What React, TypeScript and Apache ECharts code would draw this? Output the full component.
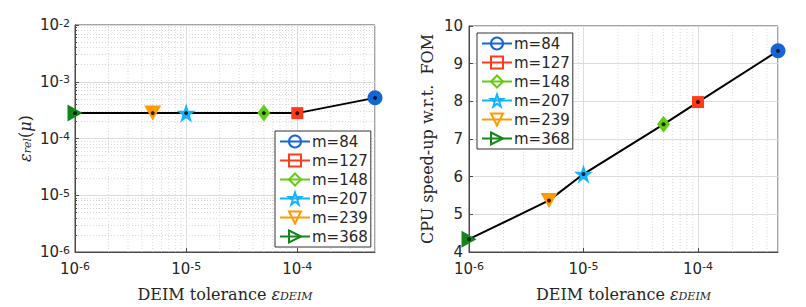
import React, { useEffect, useRef } from 'react';
import * as echarts from 'echarts';

// ---- data ----
const tolerance = [5e-4, 1e-4, 5e-5, 1e-5, 5e-6, 1e-6];
const labels = ['m=84', 'm=127', 'm=148', 'm=207', 'm=239', 'm=368'];
const relError = [5.2e-4, 2.8e-4, 2.8e-4, 2.8e-4, 2.8e-4, 2.8e-4];
const speedup = [9.34, 7.98, 7.39, 6.07, 5.37, 4.34];

// axis ranges and minor grid positions (axis decoration)
const xRange = [1e-6, 5e-4];
const yRangeLeft = [1e-6, 1e-2];
const yRangeRight = [4, 10];
const xMinorTicks = [
  2e-6, 3e-6, 4e-6, 5e-6, 6e-6, 7e-6, 8e-6, 9e-6,
  2e-5, 3e-5, 4e-5, 5e-5, 6e-5, 7e-5, 8e-5, 9e-5,
  2e-4, 3e-4, 4e-4,
];

// ---- styles ----
const colors = ['#1466d6', '#ff3b1c', '#62cc14', '#15b3fb', '#ff9a00', '#12861a'];
const STAR = 'path://M50,0L61.8,34.5L97.6,34.5L68.6,55.9L79.4,90.5L50,69.1L20.6,90.5L31.4,55.9L2.4,34.5L38.2,34.5Z';
const DOWN = 'path://M0,0L10,0L5,9Z';
const RIGHT = 'path://M0,0L9,5L0,10Z';
const symbols = ['circle', 'rect', 'diamond', STAR, DOWN, RIGHT];
const symbolSizes: any[] = [15, 12, [13, 17], 19, [17, 15], [15, 17]];

const TXT = '#262626';
const AX = '#4a4a4a';
const MINOR = { color: '#d9d9d9', type: [1, 2], width: 1 };

const powLabel = (v: number) => {
  const k = Math.round(Math.log10(v));
  if (Math.abs(v / Math.pow(10, k) - 1) > 1e-6) return '';
  return `{base|10}{sup|${k}}`;
};
const tickRich = {
  base: { fontSize: 15, fontFamily: 'DejaVu Sans', color: TXT },
  sup: { fontSize: 11, fontFamily: 'DejaVu Sans', color: TXT, verticalAlign: 'top' },
};

const serifRich = {
  i: { fontStyle: 'italic', fontFamily: 'DejaVu Serif', fontSize: 16, color: TXT },
  sub: { fontStyle: 'italic', fontFamily: 'DejaVu Serif', fontSize: 11, color: TXT, verticalAlign: 'bottom' },
  n: { fontFamily: 'DejaVu Serif', fontSize: 16, color: TXT },
};

function logXAxis(gridIndex: number) {
  return {
    type: 'log',
    logBase: 10,
    gridIndex,
    min: xRange[0],
    max: xRange[1],
    name: 'DEIM tolerance {i|ε}{sub|DEIM}',
    nameLocation: 'middle',
    nameGap: 34,
    nameTextStyle: { fontFamily: 'DejaVu Serif', fontSize: 16, color: TXT, rich: serifRich },
    axisLine: { show: true, lineStyle: { color: AX } },
    axisTick: { show: true, inside: true, length: 4, lineStyle: { color: AX } },
    axisLabel: { formatter: powLabel, rich: tickRich, fontSize: 15, fontFamily: 'DejaVu Sans', color: TXT, margin: 9, showMaxLabel: false },
    splitLine: { show: true, lineStyle: { color: '#dcdcdc', width: 1 } },
  };
}

// vertical minor grid lines drawn through the axes' own scales
function minorGridSeries(idx: number, yr: number[]) {
  const data: any[] = [];
  xMinorTicks.forEach((x) => {
    data.push([x, yr[0]], [x, yr[1]], '-');
  });
  return {
    type: 'line', xAxisIndex: idx, yAxisIndex: idx, data, symbol: 'none',
    connectNulls: false, silent: true, z: 1,
    lineStyle: MINOR,
  };
}

function markerSeries(xAxisIndex: number, values: number[]) {
  return labels.map((name, i) => ({
    name,
    type: 'line',
    xAxisIndex,
    yAxisIndex: xAxisIndex,
    data: [[tolerance[i], values[i]]],
    symbol: symbols[i],
    symbolSize: symbolSizes[i],
    itemStyle: { color: colors[i] },
    lineStyle: { color: colors[i], width: 3 },
    z: 3,
  }));
}

function blackLine(idx: number, values: number[]) {
  const d = tolerance.map((t, i) => [t, values[i]]);
  return [
    {
      type: 'line', xAxisIndex: idx, yAxisIndex: idx, data: d, symbol: 'none',
      lineStyle: { color: '#000', width: 2 }, z: 2, silent: true,
    },
    {
      type: 'scatter', xAxisIndex: idx, yAxisIndex: idx, data: d, symbol: 'circle', symbolSize: 4,
      itemStyle: { color: '#000' }, z: 4, silent: true,
    },
  ];
}

function legend(left: number, top: number) {
  return {
    left, top,
    orient: 'vertical',
    selectedMode: false,
    itemWidth: 30,
    itemHeight: 15,
    itemGap: 4,
    padding: [3, 3, 3, 4],
    backgroundColor: '#fff',
    borderColor: '#333',
    borderWidth: 1,
    borderRadius: 0,
    textStyle: { fontFamily: 'DejaVu Sans', fontSize: 15, color: TXT, padding: [0, 0, 0, -3] },
    data: labels.map((name, i) => ({
      name,
      itemStyle: { color: 'rgba(255,255,255,0)', borderColor: colors[i], borderWidth: 2 },
    })),
  };
}

export default function App() {
  const ref = useRef<HTMLDivElement>(null);
  useEffect(() => {
    if (!ref.current) return;
    const chart = echarts.init(ref.current, undefined, { renderer: 'svg' });
    chart.setOption({
      animation: false,
      backgroundColor: '#fff',
      grid: [
        { left: 75, top: 25, width: 300, height: 228, show: true, borderColor: AX, borderWidth: 1, backgroundColor: 'transparent' },
        { left: 469, top: 26, width: 309, height: 227, show: true, borderColor: AX, borderWidth: 1, backgroundColor: 'transparent' },
      ],
      xAxis: [logXAxis(0), logXAxis(1)],
      yAxis: [
        {
          type: 'log', logBase: 10, gridIndex: 0, min: yRangeLeft[0], max: yRangeLeft[1],
          name: '{i|ε}{sub|rel}{n|(}{i|μ}{n|)}',
          nameLocation: 'middle', nameGap: 42, nameRotate: 90,
          nameTextStyle: { fontFamily: 'DejaVu Serif', fontSize: 16, color: TXT, rich: serifRich },
          axisLine: { show: true, lineStyle: { color: AX } },
          axisTick: { show: true, inside: true, length: 4, lineStyle: { color: AX } },
          minorTick: { show: true, splitNumber: 9, length: 2, lineStyle: { color: AX } },
          minorSplitLine: { show: true, lineStyle: MINOR },
          axisLabel: { formatter: powLabel, rich: tickRich, fontSize: 15, fontFamily: 'DejaVu Sans', color: TXT, margin: 5 },
          splitLine: { show: true, lineStyle: { color: '#dcdcdc', width: 1 } },
        },
        {
          type: 'value', gridIndex: 1, min: yRangeRight[0], max: yRangeRight[1], interval: 1,
          name: 'CPU speed-up w.r.t.  FOM',
          nameLocation: 'middle', nameGap: 34, nameRotate: 90,
          nameTextStyle: { fontFamily: 'DejaVu Serif', fontSize: 16, color: TXT },
          axisLine: { show: true, lineStyle: { color: AX } },
          axisTick: { show: true, inside: true, length: 4, lineStyle: { color: AX } },
          axisLabel: { fontFamily: 'DejaVu Sans', fontSize: 15, color: TXT, margin: 6 },
          splitLine: { show: true, lineStyle: { color: '#dcdcdc', width: 1 } },
        },
      ],
      legend: [legend(275, 131), legend(477, 33)],
      series: [
        minorGridSeries(0, yRangeLeft),
        minorGridSeries(1, yRangeRight),
        ...blackLine(0, relError),
        ...blackLine(1, speedup),
        ...markerSeries(0, relError),
        ...markerSeries(1, speedup),
      ],
    });
    return () => chart.dispose();
  }, []);
  return <div ref={ref} style={{ position: 'fixed', left: 0, top: 0, width: 806, height: 307 }} />;
}
